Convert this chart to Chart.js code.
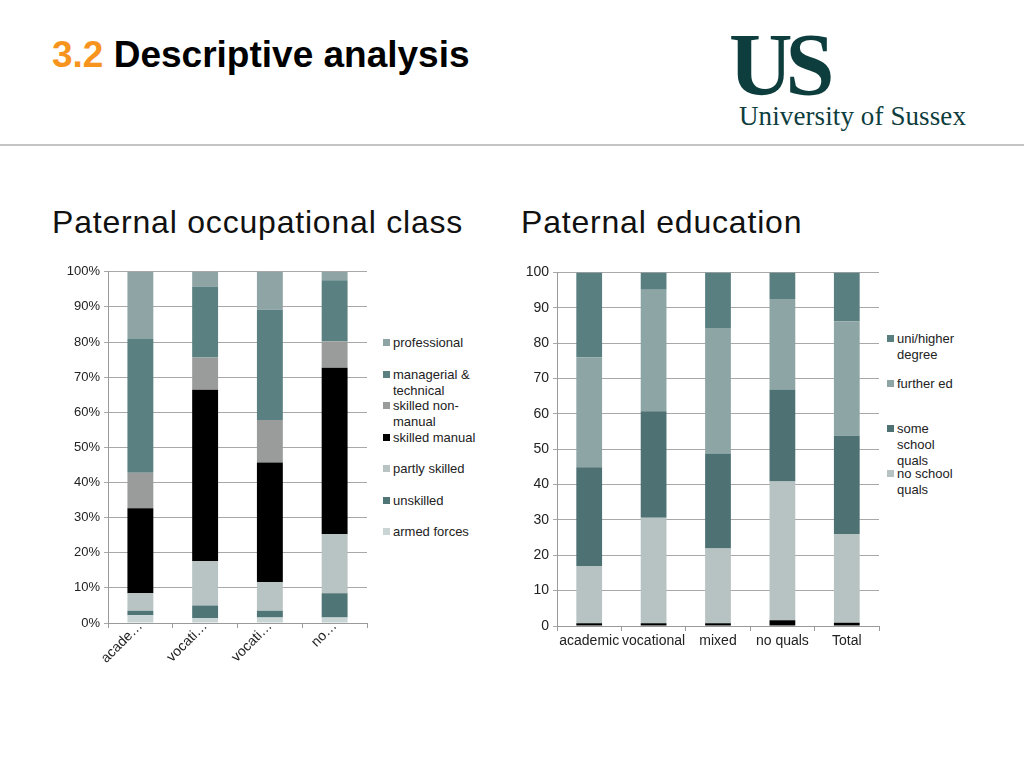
<!DOCTYPE html>
<html>
<head>
<meta charset="utf-8">
<script src="https://cdn.jsdelivr.net/npm/chart.js@4/dist/chart.umd.min.js"></script>
<style>
  body { margin: 0; width: 1024px; height: 768px; background: #fff; position: relative; overflow: hidden; font-family: "Liberation Sans", Arial, sans-serif; }
  .title { position: absolute; left: 52px; top: 34px; font-size: 37px; font-weight: bold; color: #000; white-space: nowrap; }
  .title span { color: #f7941d; }
  .logo-us { position: absolute; left: 729px; top: 21px; font-family: "Liberation Serif", serif; font-size: 88px; font-weight: bold; color: #0e3d3d; letter-spacing: -7px; line-height: 1; }
  .logo-name { position: absolute; left: 739px; top: 101px; font-family: "Liberation Serif", serif; font-size: 27px; color: #0e3d3d; white-space: nowrap; letter-spacing: 0.1px; }
  .rule { position: absolute; left: 0; top: 144px; width: 1024px; height: 2px; background: #c4c4c4; }
  .sub { position: absolute; top: 204px; font-size: 32px; color: #111; white-space: nowrap; letter-spacing: 0.8px; }
  .wrap { position: absolute; }
  .legend { position: absolute; font-size: 13px; color: #222; line-height: 16px; }
  .legend .item { position: absolute; left: 0; padding-left: 10px; }
  .legend .sw { position: absolute; left: 0; top: 4px; width: 7px; height: 7px; }
</style>
</head>
<body>
<div class="title"><span>3.2</span> Descriptive analysis</div>
<div class="logo-us">US</div>
<div class="logo-name">University of Sussex</div>
<div class="rule"></div>

<div class="sub" style="left:52px">Paternal occupational class</div>
<div class="sub" style="left:521px">Paternal education</div>

<div class="wrap" style="left:40px; top:260px; width:332px; height:423px;"><canvas id="occChart"></canvas></div>
<div class="legend" id="occLegend" style="left:383px; top:335px; width:100px;"></div>

<div class="wrap" style="left:505px; top:260px; width:380px; height:396px;"><canvas id="eduChart"></canvas></div>
<div class="legend" id="eduLegend" style="left:887px; top:331px; width:80px;"></div>

<script>
// Paternal occupational class (percent of each group)
const occCategories = ['acade…', 'vocati…', 'vocati…', 'no…'];
const occArmedForces   = [2.2, 1.4, 1.6, 1.6];
const occUnskilled     = [1.3, 3.6, 1.9, 6.9];
const occPartlySkilled = [5.0, 12.6, 8.1, 16.8];
const occSkilledManual = [24.2, 48.8, 34.1, 47.4];
const occNonManual     = [10.1, 9.2, 12.1, 7.5];
const occManagerial    = [38.1, 20.2, 31.4, 17.4];
const occProfessional  = [19.1, 4.2, 10.8, 2.4];
const occTicks = ['0%', '10%', '20%', '30%', '40%', '50%', '60%', '70%', '80%', '90%', '100%'];

// Paternal education
const eduCategories = ['academic', 'vocational', 'mixed', 'no quals', 'Total'];
const eduMissing  = [0.8, 0.8, 0.8, 1.6, 0.9];
const eduNoSchool = [16.2, 29.8, 21.1, 39.3, 25.1];
const eduSomeSchool = [27.9, 30.1, 26.9, 26.0, 27.8];
const eduFurther  = [31.1, 34.4, 35.5, 25.6, 32.4];
const eduUni      = [24.0, 4.9, 15.7, 7.5, 13.8];

Chart.defaults.font.family = '"Liberation Sans", Arial, sans-serif';
Chart.defaults.font.size = 13;
Chart.defaults.color = '#222';
Chart.defaults.animation = false;

function ds(label, data, color, inLegend = true) {
  return { label, data, backgroundColor: color, borderWidth: 0, barPercentage: 0.4, categoryPercentage: 1, inLegend };
}

function makeScales(yWidth, xHeight, tickFmt, xRotate, xPad, yFont) {
  return {
    x: {
      stacked: true,
      grid: { display: true, drawOnChartArea: false, drawTicks: true, tickLength: 5, color: '#9a9a9a', offset: true },
      border: { color: '#9a9a9a' },
      ticks: { autoSkip: false, maxRotation: xRotate, minRotation: xRotate, padding: xPad, color: '#222', font: { size: 14 } },
      afterFit(scale) { scale.height = xHeight; }
    },
    y: {
      stacked: true, min: 0, max: 100,
      grid: { color: '#a8a8a8', tickLength: 4 },
      border: { color: '#9a9a9a' },
      ticks: { stepSize: 10, callback: tickFmt, padding: 4, color: '#222', font: { size: yFont } },
      afterFit(scale) { scale.width = yWidth; }
    }
  };
}

function buildLegend(chart, el, step) {
  const items = chart.data.datasets.filter(d => d.inLegend).reverse();
  el.innerHTML = items.map((d, i) => `
    <div class="item" style="top:${i * step}px"><span class="sw" style="background:${d.backgroundColor}"></span>${d.label}</div>`).join('');
}

const occChart = new Chart(document.getElementById('occChart'), {
  type: 'bar',
  data: {
    labels: occCategories,
    datasets: [
      ds('armed forces', occArmedForces, '#c9d5d5'),
      ds('unskilled', occUnskilled, '#4f7576'),
      ds('partly skilled', occPartlySkilled, '#b8c3c3'),
      ds('skilled manual', occSkilledManual, '#000000'),
      ds('skilled non-manual', occNonManual, '#9a9c9c'),
      ds('managerial & technical', occManagerial, '#5a8081'),
      ds('professional', occProfessional, '#8fa5a5')
    ]
  },
  options: {
    responsive: true, maintainAspectRatio: false,
    layout: { padding: { top: 10, right: 5, left: 0, bottom: 0 } },
    plugins: { legend: { display: false }, tooltip: { enabled: false } },
    scales: makeScales(68, 60, (v, i) => occTicks[i], 45, -10, 13)
  }
});
buildLegend(occChart, document.getElementById('occLegend'), 31.5);

const eduChart = new Chart(document.getElementById('eduChart'), {
  type: 'bar',
  data: {
    labels: eduCategories,
    datasets: [
      ds('missing', eduMissing, '#000000', false),
      ds('no school quals', eduNoSchool, '#b7c2c2'),
      ds('some school quals', eduSomeSchool, '#4e7273'),
      ds('further ed', eduFurther, '#8ea5a5'),
      ds('uni/higher degree', eduUni, '#5a7f80')
    ]
  },
  options: {
    responsive: true, maintainAspectRatio: false,
    layout: { padding: { top: 8, right: 6, left: 0, bottom: 0 } },
    plugins: { legend: { display: false }, tooltip: { enabled: false } },
    scales: makeScales(52, 30, v => v, 0, 2, 14)
  }
});
buildLegend(eduChart, document.getElementById('eduLegend'), 45);
</script>
</body>
</html>
